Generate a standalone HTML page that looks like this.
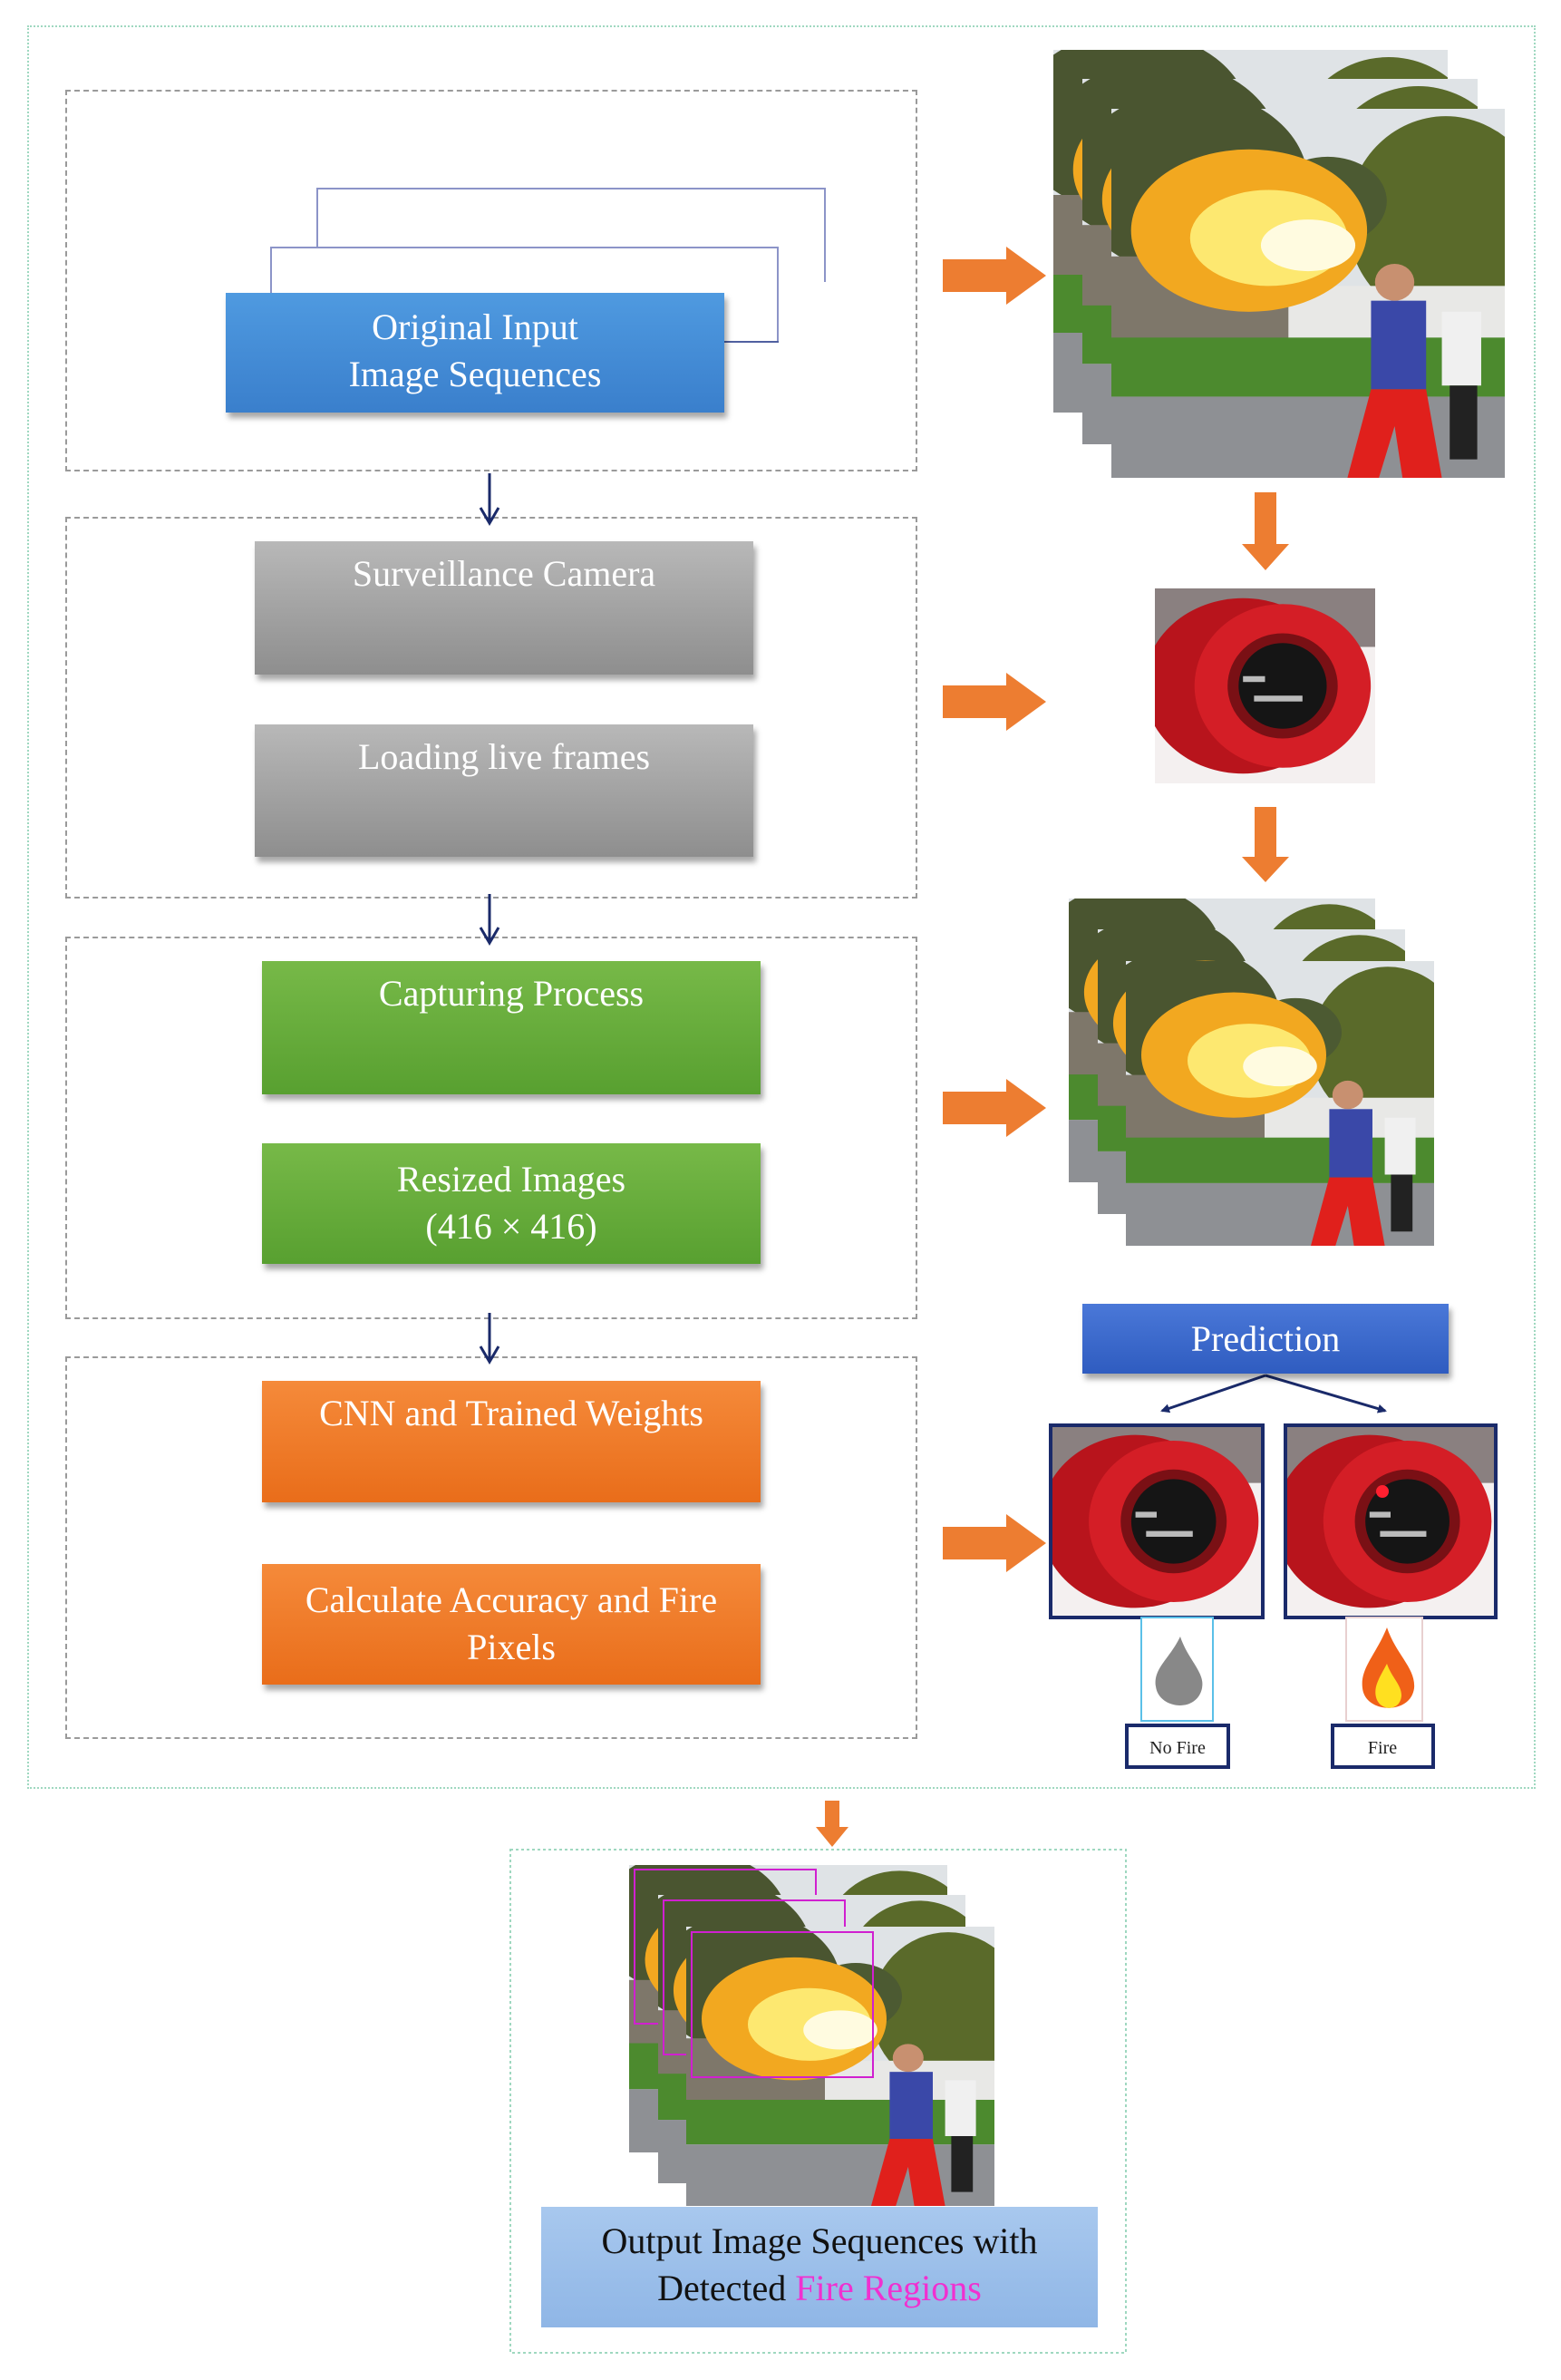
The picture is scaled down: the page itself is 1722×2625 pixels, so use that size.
<!DOCTYPE html>
<html><head><meta charset="utf-8"><style>
body{margin:0;background:#fff;}
#c{position:relative;width:1722px;height:2625px;overflow:hidden;background:#fff;font-family:"Liberation Serif",serif;}
.a{position:absolute;box-sizing:border-box;}
.dash{border:2px dashed #9a9a9a;}
.box{color:#fff;text-align:center;font-size:40px;line-height:52px;box-shadow:3px 6px 6px rgba(0,0,0,0.35);}
.blue{background:linear-gradient(#4f9ae0,#3a7fcc);}
.gray{background:linear-gradient(#b8b8b8,#8e8e8e);}
.green{background:linear-gradient(#77b948,#58a030);}
.orange{background:linear-gradient(#f58a3a,#e96d1a);}
svg.p{position:absolute;}
</style></head><body><div id="c">
<svg width="0" height="0" style="position:absolute">
<defs>
<symbol id="ph" viewBox="0 0 100 100" preserveAspectRatio="none">
<rect width="100" height="100" fill="#dfe3e6"/>
<ellipse cx="20" cy="20" rx="30" ry="25" fill="#4a5530"/>
<ellipse cx="85" cy="30" rx="25" ry="28" fill="#5a6a2a"/>
<ellipse cx="55" cy="25" rx="15" ry="12" fill="#4c5a32"/>
<rect x="0" y="40" width="50" height="25" fill="#7e776a"/>
<rect x="45" y="48" width="55" height="20" fill="#e8e8e6"/>
<rect x="0" y="62" width="100" height="16" fill="#4c8a2e"/>
<rect x="0" y="78" width="100" height="22" fill="#8e9094"/>
<ellipse cx="35" cy="33" rx="30" ry="22" fill="#f2a820"/>
<ellipse cx="40" cy="35" rx="20" ry="13" fill="#fde870"/>
<ellipse cx="50" cy="37" rx="12" ry="7" fill="#fffbe0"/>
<rect x="66" y="52" width="14" height="24" fill="#3a48a8"/>
<polygon points="66,76 80,76 84,100 74,100 72,86 68,100 60,100" fill="#e0201c"/>
<circle cx="72" cy="47" r="5" fill="#c89070"/>
<rect x="84" y="55" width="10" height="20" fill="#f0f0f0"/>
<rect x="86" y="75" width="7" height="20" fill="#222"/>
</symbol>
<symbol id="det" viewBox="0 0 100 100" preserveAspectRatio="none">
<rect width="100" height="100" fill="#f4f0f0"/>
<rect width="100" height="30" fill="#8a8080"/>
<ellipse cx="40" cy="50" rx="45" ry="45" fill="#b8141c"/>
<ellipse cx="58" cy="50" rx="40" ry="42" fill="#d41e26"/>
<ellipse cx="58" cy="50" rx="25" ry="27" fill="#7a1015"/>
<ellipse cx="58" cy="50" rx="20" ry="22" fill="#151515"/>
<rect x="45" y="55" width="22" height="3" fill="#bbb"/>
<rect x="40" y="45" width="10" height="3" fill="#bbb"/>
</symbol>
</defs></svg>

<div class="a" style="left:30px;top:28px;width:1664px;height:1945px;border:2px dotted #9fd8c0;"></div>
<div class="a dash" style="left:72px;top:99px;width:940px;height:421px;"></div>
<div class="a dash" style="left:72px;top:570px;width:940px;height:421px;"></div>
<div class="a dash" style="left:72px;top:1033px;width:940px;height:422px;"></div>
<div class="a dash" style="left:72px;top:1496px;width:940px;height:422px;"></div>

<div class="a" style="left:349px;top:207px;width:562px;height:104px;border:2px solid #8c94c8;border-left:2px solid #8c94c8;border-bottom:none;"></div>
<div class="a" style="left:298px;top:272px;width:561px;height:106px;border:2px solid #8c94c8;border-bottom:none;background:#fff;"></div>
<div class="a" style="left:799px;top:376px;width:60px;height:2px;background:#5060a0;"></div>
<div class="a box blue" style="left:249px;top:323px;width:550px;height:132px;padding-top:12px;">Original Input<br>Image Sequences</div>

<div class="a box gray" style="left:281px;top:597px;width:550px;height:147px;padding-top:10px;">Surveillance Camera</div>
<div class="a box gray" style="left:281px;top:799px;width:550px;height:146px;padding-top:10px;">Loading live frames</div>
<div class="a box green" style="left:289px;top:1060px;width:550px;height:147px;padding-top:10px;">Capturing Process</div>
<div class="a box green" style="left:289px;top:1261px;width:550px;height:133px;padding-top:14px;">Resized Images<br>(416 × 416)</div>
<div class="a box orange" style="left:289px;top:1523px;width:550px;height:134px;padding-top:10px;">CNN and Trained Weights</div>
<div class="a box orange" style="left:289px;top:1725px;width:550px;height:133px;padding-top:14px;">Calculate Accuracy and Fire<br>Pixels</div>

<svg class="p" style="left:0;top:0" width="1722" height="2625">
<defs><marker id="m" markerWidth="10" markerHeight="10" refX="8" refY="5" orient="auto" markerUnits="userSpaceOnUse"><path d="M0,0 L10,5 L0,10 z" fill="#1a2a6a"/></marker></defs>
<g stroke="#1a2a6a" stroke-width="3" fill="none">
<path d="M540 522 V575"/><path d="M530 560 L540 577 L550 560"/>
<path d="M540 986 V1038"/><path d="M530 1023 L540 1040 L550 1023"/>
<path d="M540 1448 V1500"/><path d="M530 1485 L540 1502 L550 1485"/>
<path d="M1396 1517 L1282 1556" marker-end="url(#m)"/>
<path d="M1396 1517 L1528 1556" marker-end="url(#m)"/>
</g>
<g fill="#ed7d31">
<polygon points="1040,286 1110,286 1110,272 1154,304 1110,336 1110,322 1040,322"/>
<polygon points="1040,756 1110,756 1110,742 1154,774 1110,806 1110,792 1040,792"/>
<polygon points="1040,1204 1110,1204 1110,1190 1154,1222 1110,1254 1110,1240 1040,1240"/>
<polygon points="1040,1684 1110,1684 1110,1670 1154,1702 1110,1734 1110,1720 1040,1720"/>
<polygon points="1384,543 1408,543 1408,600 1422,600 1396,629 1370,600 1384,600"/>
<polygon points="1384,890 1408,890 1408,945 1422,945 1396,973 1370,945 1384,945"/>
<polygon points="910,1986 926,1986 926,2015 936,2015 918,2037 900,2015 910,2015"/>
</g>
<use href="#ph" x="1162" y="55" width="435" height="400"/>
<use href="#ph" x="1194" y="87" width="436" height="403"/>
<use href="#ph" x="1226" y="120" width="434" height="407"/>
<use href="#det" x="1274" y="649" width="243" height="215"/>
<use href="#ph" x="1179" y="991" width="338" height="313"/>
<use href="#ph" x="1211" y="1025" width="339" height="314"/>
<use href="#ph" x="1242" y="1060" width="340" height="314"/>
<use href="#det" x="1159" y="1572" width="234" height="212"/>
<rect x="1159" y="1572" width="234" height="212" fill="none" stroke="#1a2a6a" stroke-width="4"/>
<use href="#det" x="1418" y="1572" width="232" height="212"/>
<circle cx="1525" cy="1645" r="7" fill="#ff2030"/>
<rect x="1418" y="1572" width="232" height="212" fill="none" stroke="#1a2a6a" stroke-width="4"/>
<rect x="1259" y="1784" width="79" height="114" fill="#fff" stroke="#5bc0e8" stroke-width="2"/>
<path d="M1302 1805 C1290 1830 1272 1840 1275 1860 C1278 1885 1320 1890 1326 1862 C1330 1845 1310 1830 1302 1805z" fill="#888"/>
<rect x="1485" y="1784" width="84" height="114" fill="#fff" stroke="#e8d0d0" stroke-width="2"/>
<path d="M1530 1795 C1518 1825 1500 1840 1503 1862 C1506 1890 1556 1892 1560 1862 C1562 1840 1540 1825 1530 1795z" fill="#f06018"/>
<path d="M1530 1835 C1522 1850 1515 1860 1518 1872 C1522 1888 1545 1888 1546 1870 C1546 1858 1535 1850 1530 1835z" fill="#ffe020"/>
<rect x="1243" y="1903" width="112" height="46" fill="#fff" stroke="#1a2a6a" stroke-width="4"/>
<rect x="1470" y="1903" width="111" height="46" fill="#fff" stroke="#1a2a6a" stroke-width="4"/>
<text x="1299" y="1934" font-family="Liberation Serif" font-size="20" text-anchor="middle" fill="#222">No Fire</text>
<text x="1525" y="1934" font-family="Liberation Serif" font-size="20" text-anchor="middle" fill="#222">Fire</text>
<rect x="563" y="2040" width="679" height="555" fill="none" stroke="#9fd8c0" stroke-width="2" stroke-dasharray="3,3"/>
<use href="#ph" x="694" y="2057" width="351" height="317"/>
<rect x="700" y="2062" width="200" height="170" fill="none" stroke="#d020d0" stroke-width="2"/>
<use href="#ph" x="726" y="2090" width="339" height="318"/>
<rect x="732" y="2096" width="200" height="170" fill="none" stroke="#d020d0" stroke-width="2"/>
<use href="#ph" x="757" y="2125" width="340" height="308"/>
<rect x="763" y="2131" width="200" height="160" fill="none" stroke="#d020d0" stroke-width="2"/>
</svg>

<div class="a box" style="left:1194px;top:1438px;width:404px;height:77px;background:linear-gradient(#4a78d8,#2f5cc0);line-height:77px;">Prediction</div>
<div class="a" style="left:597px;top:2434px;width:614px;height:133px;background:linear-gradient(#a8c8ee,#8fb6e6);color:#111;text-align:center;font-size:40px;line-height:52px;padding-top:12px;">Output Image Sequences with<br>Detected <span style="color:#f030d0">Fire Regions</span></div>
</div></body></html>
